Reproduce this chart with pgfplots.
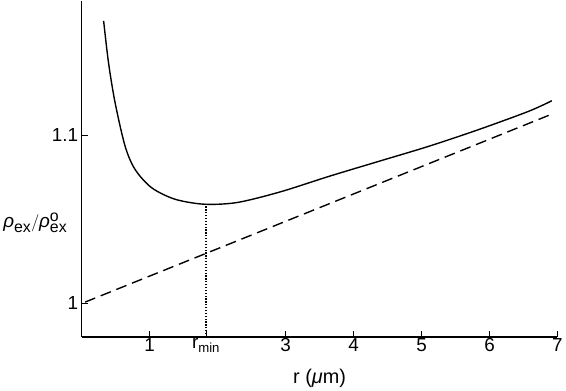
\documentclass[border=0pt]{standalone}
\usepackage{fontspec}
\setmainfont{Liberation Sans}
\usepackage{pgfplots}
\pgfplotsset{compat=1.18}
\newcommand{\sz}[1]{\fontsize{#1}{#1}\selectfont}
\begin{document}
\begin{tikzpicture}
\begin{axis}[
  scale only axis,
  width=478bp, height=338bp,
  xmin=0, xmax=7, ymin=0.98, ymax=1.18,
  axis lines*=left,
  axis line style={line width=1.3pt},
  tick style={line width=1.1pt, black},
  tick align=inside,
  major tick length=6pt,
  xtick={1,1.83,3,4,5,6,7},
  xticklabels={1,r\textsubscript{min},3,4,5,6,7},
  ytick={1,1.1},
  yticklabels={1,1.1},
  /pgf/number format/assume math mode=true,
  tick label style={font=\sz{19}},
  xticklabel style={yshift=2pt},
  xlabel={\sz{20}r (\textit{μ}m)},
  xlabel style={yshift=-10pt},
  ylabel={\sz{19}$\mbox{\itshape ρ}_{\mbox{\sz{16}ex}}/\mbox{\itshape ρ}^{\mbox{\sz{16}o}}_{\mbox{\sz{16}ex}}$},
  every axis y label/.style={at={(rel axis cs:0,0.34)}, anchor=east, xshift=-11pt, rotate=0},
  clip=false,
]
\addplot[black, line width=1.4pt, smooth, tension=0.5] coordinates {
(0.323,1.168) (0.396,1.1428) (0.493,1.1191) (0.639,1.0935) (0.785,1.0797)
(1.029,1.0688) (1.370,1.0620) (1.800,1.0590) (2.287,1.0600)
(2.920,1.0663) (3.651,1.0757) (4.382,1.0846) (5.113,1.0935) (5.844,1.1034)
(6.575,1.1142) (6.917,1.1205)
};
\addplot[black, line width=1.4pt, dash pattern=on 11pt off 6pt] coordinates {
(0.05,1.0008) (6.92,1.1126)
};
\addplot[black, line width=1.5pt, dash pattern=on 1.3pt off 1.6pt] coordinates {
(1.83,0.98) (1.83,1.059)
};
\end{axis}
\end{tikzpicture}
\end{document}
